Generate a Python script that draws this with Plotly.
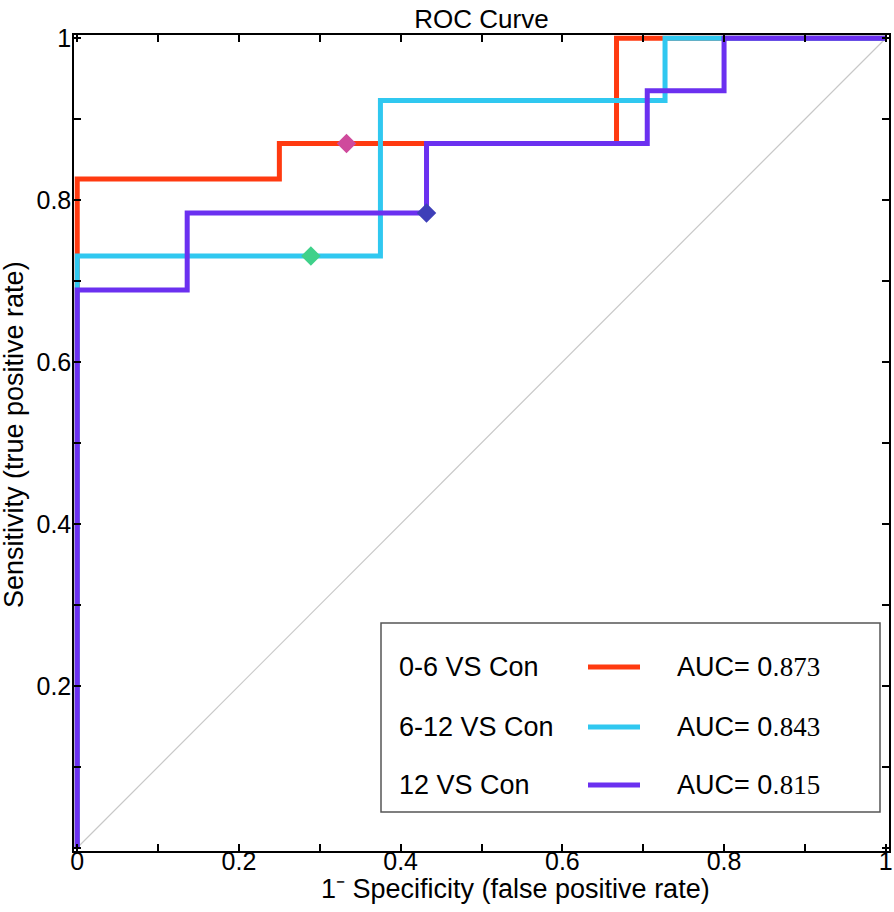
import plotly.graph_objects as go

# ROC step curves (false positive rate, true positive rate)
fpr_06 = [0, 0, 0.25, 0.667, 1]
tpr_06 = [0, 0.826, 0.870, 1, 1]

fpr_612 = [0, 0, 0.375, 0.727, 1]
tpr_612 = [0, 0.731, 0.923, 1, 1]

fpr_12 = [0, 0, 0.136, 0.432, 0.705, 0.80, 1]
tpr_12 = [0, 0.689, 0.784, 0.870, 0.935, 1, 1]

# optimal cut-off points
cut_fpr = [0.333, 0.289, 0.432]
cut_tpr = [0.870, 0.731, 0.784]
cut_colors = ['#cf4a9c', '#3fd18a', '#3e3fb8']

group_names = ['0-6 VS Con', '6-12 VS Con', '12 VS Con']
auc_values = ['873', '843', '815']
line_colors = ['#ff3a10', '#30c8f0', '#6b30f0']

tick_vals = [0, 0.2, 0.4, 0.6, 0.8, 1]
tick_text = ['0', '0.2', '0.4', '0.6', '0.8', '1']

# figure geometry in pixels
FIG_W, FIG_H = 894, 912
L, R, T, B = 74, 5, 35, 61
PAD = 0.004
W = FIG_W - L - R
H = FIG_H - T - B


def px(x):
    return (x - L) / W


def py(y):
    return (FIG_H - B - y) / H


fig = go.Figure()

fig.add_trace(go.Scatter(
    x=[0, 1], y=[0, 1], mode='lines',
    line=dict(color='#c8c8c8', width=1.2),
    showlegend=False, hoverinfo='skip'
))

for xs, ys, col, name in zip([fpr_06, fpr_612, fpr_12],
                             [tpr_06, tpr_612, tpr_12],
                             line_colors, group_names):
    fig.add_trace(go.Scatter(
        x=xs, y=ys, mode='lines', name=name,
        line=dict(color=col, width=5, shape='hv'),
        showlegend=False
    ))

fig.add_trace(go.Scatter(
    x=cut_fpr, y=cut_tpr, mode='markers',
    marker=dict(symbol='diamond', size=15, color=cut_colors,
                line=dict(width=0)),
    showlegend=False, cliponaxis=False
))

# legend box drawn by hand: label, line sample, AUC
fig.add_shape(type='rect', xref='paper', yref='paper',
              x0=px(381), x1=px(880), y0=py(812), y1=py(623),
              line=dict(color='#555555', width=1.5), fillcolor='white',
              layer='above')

row_y = [667, 727, 785]
for i, ry in enumerate(row_y):
    fig.add_shape(type='line', xref='paper', yref='paper',
                  x0=px(588), x1=px(640), y0=py(ry), y1=py(ry),
                  line=dict(color=line_colors[i], width=5), layer='above')
    fig.add_annotation(xref='paper', yref='paper', x=px(397), y=py(ry),
                       xanchor='left', yanchor='middle', showarrow=False,
                       text=group_names[i],
                       font=dict(family='Liberation Sans', size=27, color='black'))
    fig.add_annotation(xref='paper', yref='paper', x=px(675), y=py(ry),
                       xanchor='left', yanchor='middle', showarrow=False,
                       text='AUC= 0.<span style="font-family:Liberation Serif">'
                            + auc_values[i] + '</span>',
                       font=dict(family='Liberation Sans', size=27, color='black'))

# axis titles
fig.add_annotation(xref='paper', yref='paper', x=px(515), y=py(889),
                   xanchor='center', yanchor='middle', showarrow=False,
                   text='1\u207b Specificity (false positive rate)',
                   font=dict(family='Liberation Sans', size=27, color='black'))
fig.add_annotation(xref='paper', yref='paper', x=px(14), y=py(435),
                   xanchor='center', yanchor='middle', showarrow=False,
                   textangle=-90,
                   text='Sensitivity (true positive rate)',
                   font=dict(family='Liberation Sans', size=27, color='black'))

axis_style = dict(
    range=[-PAD, 1 + PAD],
    tickvals=tick_vals,
    ticktext=tick_text,
    ticks='inside',
    ticklen=7,
    tickwidth=1.5,
    tickcolor='black',
    minor=dict(dtick=0.1, ticks='inside', ticklen=7, tickwidth=1.5,
               tickcolor='black', showgrid=False),
    showline=True,
    linecolor='black',
    linewidth=1.5,
    mirror='ticks',
    showgrid=False,
    zeroline=False,
    automargin=False,
    tickfont=dict(family='Liberation Sans', size=25, color='black'),
)

fig.update_layout(
    width=FIG_W,
    height=FIG_H,
    margin=dict(l=L, r=R, t=T, b=B, autoexpand=False),
    plot_bgcolor='white',
    paper_bgcolor='white',
    title=dict(
        text='ROC Curve',
        x=0.5, xref='paper', xanchor='center',
        y=1 - 19 / FIG_H, yref='container', yanchor='middle',
        automargin=False,
        font=dict(family='Liberation Sans', size=26, color='black')
    ),
    xaxis=dict(**axis_style, ticklabelstandoff=-13),
    yaxis=dict(**axis_style, ticklabelstandoff=-4),
    showlegend=False,
)
fig.update_yaxes(tickvals=tick_vals[1:], ticktext=tick_text[1:])

# the page body has a default 8px margin; drop it so the figure sits at 0,0
fig.write_html('out.html', config={'displayModeBar': False},
               post_script="document.body.style.margin='0';")
